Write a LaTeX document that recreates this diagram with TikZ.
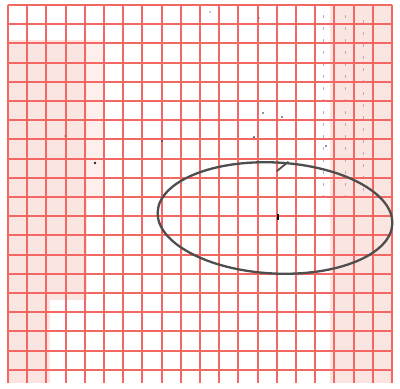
\documentclass[tikz,border=0pt]{standalone}
\usetikzlibrary{calc}
\definecolor{gridred}{RGB}{243,104,98}
\definecolor{pinkbg}{RGB}{251,229,224}
\definecolor{inkgray}{RGB}{78,78,78}
\tikzset{
  gridline/.style={draw=gridred, line width=2pt},
  gridmain/.style={draw=gridred, line width=2.8pt},
  curveline/.style={draw=inkgray, line width=2.3pt, line cap=round},
  speck/.style={fill=black!85},
  pencil/.style={draw=black!30, line width=0.5pt, dash pattern=on 3pt off 9pt}
}
\begin{document}
\begin{tikzpicture}[x=1pt,y=-1pt]
\useasboundingbox (0,0) rectangle (400,389);
\fill[white] (0,0) rectangle (400,389);
% faded paper areas
\fill[pinkbg] (8,40) rectangle (87,300);
\fill[pinkbg] (8,300) rectangle (50,383);
\fill[pinkbg] (330,5) rectangle (392,383);
\fill[pinkbg!60] (87,40) rectangle (105,200);
% faint pencil lines
\draw[pencil] (323,15) -- (323,200);
\draw[pencil] (345,15) -- (345,200);
\draw[pencil] (363,20) -- (363,200);
% grid
\foreach \i in {0,1,...,20} {
  \draw[gridline] ({8+19.2*\i},5) -- ({8+19.2*\i},383);
}
\foreach \j in {0,1,...,19} {
  \draw[gridline] (8,{5+19.2*\j}) -- (392,{5+19.2*\j});
}
\draw[gridmain] (8,5) -- (8,383);
\draw[gridmain] (392,5) -- (392,383);
\draw[gridmain] (200,5) -- (200,383);
\draw[gridmain] (8,5) -- (392,5);
\draw[gridmain] (8,197) -- (392,197);
% ellipse
\coordinate (c) at (275,218);
\draw[curveline, rotate around={-3:(c)}] (c) ellipse [x radius=117.5, y radius=55.5];
% arrow barb on top
\coordinate (tip) at (288,162);
\coordinate (barb) at (277,171);
\draw[curveline, line width=1.8pt] (tip) -- (barb);
% marks
\coordinate (m1) at (278,214);
\coordinate (m2) at (278,220);
\draw[line width=1.6pt, black] (m1) -- (m2);
\fill[speck] (95,163) circle (1.3);
\fill[speck] (65,136) circle (0.6);
\fill[speck] (162,141) circle (0.8);
\fill[speck] (210,12) circle (0.7);
\fill[speck] (259,18) circle (0.7);
\fill[speck] (263,113) circle (0.8);
\fill[speck] (282,117) circle (0.8);
\fill[speck] (254,137) circle (1.0);
\fill[speck] (326,146) circle (0.8);
\end{tikzpicture}
\end{document}
